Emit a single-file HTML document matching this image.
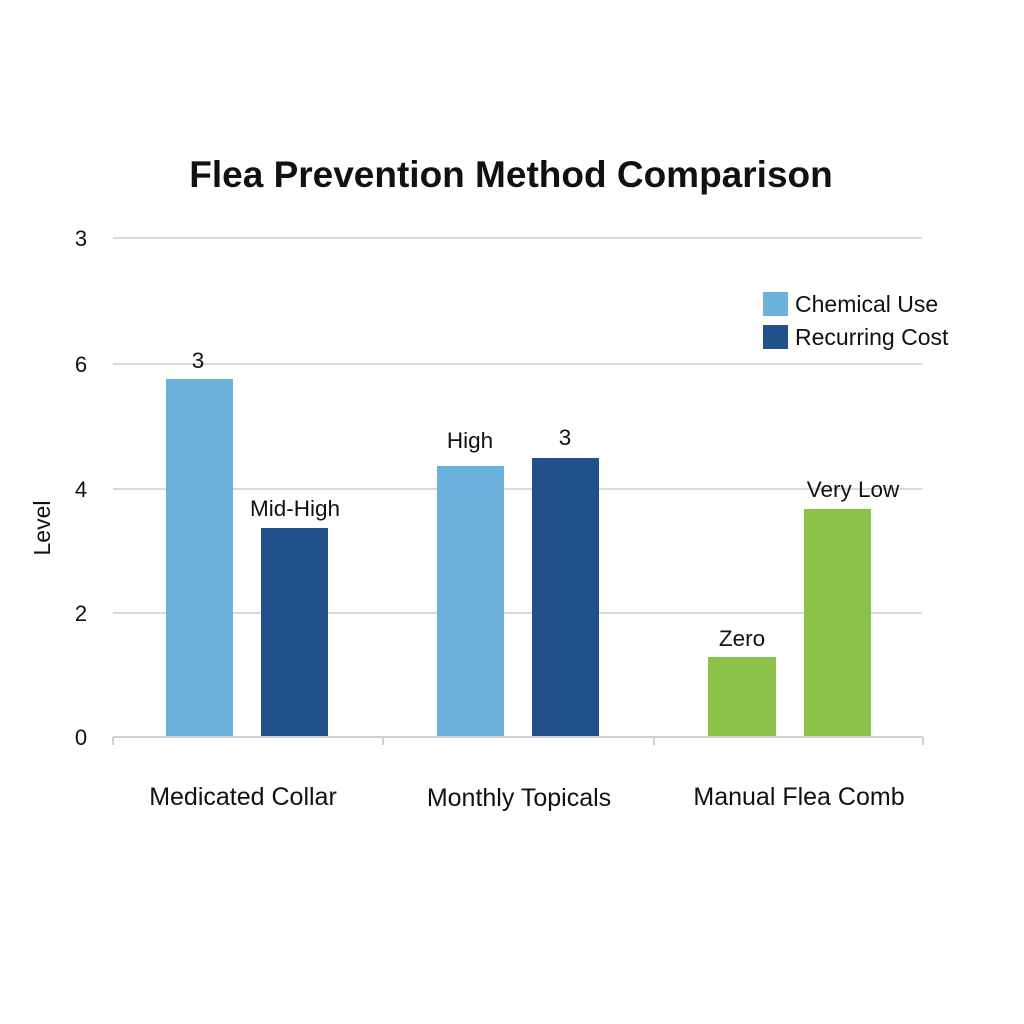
<!DOCTYPE html>
<html><head><meta charset="utf-8"><style>
html,body{margin:0;padding:0;background:#fff;}
svg{display:block;}
text{font-family:"Liberation Sans",sans-serif;fill:#111;}
</style></head><body>
<svg width="1024" height="1024" viewBox="0 0 1024 1024" xmlns="http://www.w3.org/2000/svg">
<rect width="1024" height="1024" fill="#fff"/>
<text x="511" y="187" font-size="37" font-weight="bold" text-anchor="middle">Flea Prevention Method Comparison</text>
<g stroke="#dadada" stroke-width="2">
<line x1="113" y1="238" x2="922" y2="238"/>
<line x1="113" y1="364" x2="922" y2="364"/>
<line x1="113" y1="489" x2="922" y2="489"/>
<line x1="113" y1="613" x2="922" y2="613"/>
</g>
<g font-size="22" text-anchor="middle">
<text x="81" y="246">3</text>
<text x="81" y="372">6</text>
<text x="81" y="497">4</text>
<text x="81" y="621">2</text>
<text x="81" y="745">0</text>
</g>
<text transform="translate(50,528) rotate(-90)" font-size="23" text-anchor="middle">Level</text>
<rect x="166" y="379" width="67" height="358" fill="#69b1db"/>
<rect x="261" y="528" width="67" height="209" fill="#22508b"/>
<rect x="437" y="466" width="67" height="271" fill="#69b1db"/>
<rect x="532" y="458" width="67" height="279" fill="#22508b"/>
<rect x="708" y="657" width="68" height="80" fill="#8bc34a"/>
<rect x="804" y="509" width="67" height="228" fill="#8bc34a"/>
<g stroke="#cfcfcf" stroke-width="2" fill="none">
<line x1="113" y1="737" x2="923" y2="737"/>
<line x1="113" y1="737" x2="113" y2="745"/>
<line x1="383" y1="737" x2="383" y2="745"/>
<line x1="654" y1="737" x2="654" y2="745"/>
<line x1="923" y1="737" x2="923" y2="745"/>
</g>
<g font-size="22.5" text-anchor="middle">
<text x="198" y="368">3</text>
<text x="295" y="516">Mid-High</text>
<text x="470" y="448">High</text>
<text x="565" y="445">3</text>
<text x="742" y="646">Zero</text>
<text x="853" y="497">Very Low</text>
</g>
<g font-size="25" text-anchor="middle">
<text x="243" y="805">Medicated Collar</text>
<text x="519" y="806">Monthly Topicals</text>
<text x="799" y="805">Manual Flea Comb</text>
</g>
<rect x="763" y="292" width="25" height="24" fill="#69b1db"/>
<rect x="763" y="325" width="25" height="24" fill="#22508b"/>
<text x="795" y="312" font-size="23">Chemical Use</text>
<text x="795" y="345" font-size="23">Recurring Cost</text>
</svg>
</body></html>
